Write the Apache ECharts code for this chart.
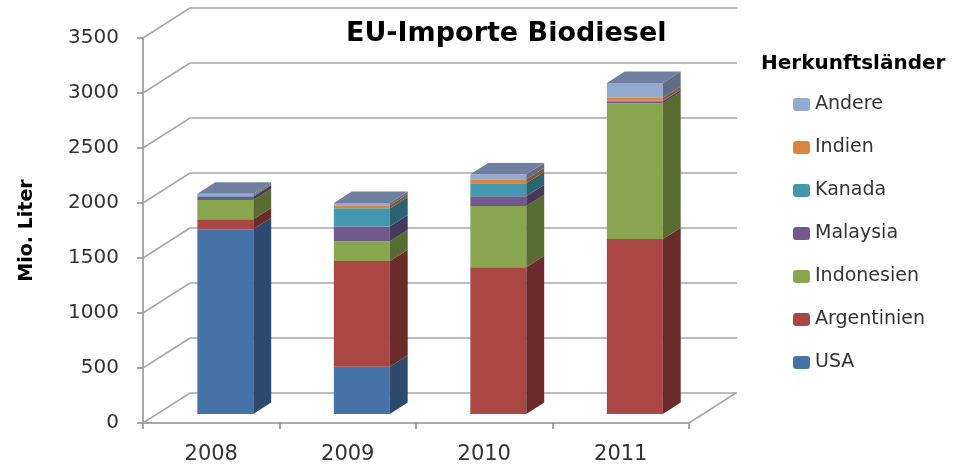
<!DOCTYPE html>
<html>
<head>
<meta charset="utf-8">
<script src="https://cdn.jsdelivr.net/npm/echarts@6/dist/echarts.min.js"></script>
<style>
html,body{margin:0;padding:0;background:#fff}
#chart{width:961px;height:469px}
</style>
</head>
<body>
<div id="chart"></div>
<script>
// EU-Importe Biodiesel, Mio. Liter
var years = ['2008', '2009', '2010', '2011'];
var usa         = [1680,  430,    0,    0];
var argentinien = [  90,  960, 1335, 1590];
var indonesien  = [ 175,  180,  555, 1235];
var malaysia    = [  30,  135,   90,   18];
var kanada      = [   8,  165,  118,    5];
var indien      = [   8,   27,   36,   27];
var andere      = [  12,   22,   45,  135];
var yTicks = [0, 500, 1000, 1500, 2000, 2500, 3000, 3500];
var legendOrder = ['Andere', 'Indien', 'Kanada', 'Malaysia', 'Indonesien', 'Argentinien', 'USA'];

// bottom to top
var countries = [
  {name: 'USA',         values: usa,         front: '#4572A7', side: '#2C4A6E', top: '#5C7DAE'},
  {name: 'Argentinien', values: argentinien, front: '#AA4643', side: '#6B2B2A', top: '#9C5A58'},
  {name: 'Indonesien',  values: indonesien,  front: '#89A54E', side: '#586B31', top: '#8A9B67'},
  {name: 'Malaysia',    values: malaysia,    front: '#71588F', side: '#46375B', top: '#75698A'},
  {name: 'Kanada',      values: kanada,      front: '#4198AF', side: '#2A6372', top: '#5F8F9E'},
  {name: 'Indien',      values: indien,      front: '#DB843D', side: '#8E5527', top: '#B58660'},
  {name: 'Andere',      values: andere,      front: '#93A9CF', side: '#5E6D88', top: '#6F7FA0'}
];

// oblique depth of the back wall (px), bar position in that depth
var DX = 47, DY = -30;
var FACE_DEPTH = 0.3, BAR_DEPTH = 0.38, BAR_W = 0.41;

var myChart = echarts.init(document.getElementById('chart'));

function makeBar(c) {
  return function (params, api) {
    var i = api.value(0), lo = api.value(1), hi = api.value(2), isTop = api.value(3);
    if (hi <= lo) return;
    var cw = api.size([1, 0])[0];
    var pLo = api.coord([i, lo]), pHi = api.coord([i, hi]);
    var w = cw * BAR_W;
    var x0 = pLo[0] + DX * FACE_DEPTH - w / 2, x1 = x0 + w;
    var yb = pLo[1] + DY * FACE_DEPTH, yt = pHi[1] + DY * FACE_DEPTH;
    var dx = DX * BAR_DEPTH, dy = DY * BAR_DEPTH;
    var kids = [
      {type: 'polygon', shape: {points: [[x0, yb], [x1, yb], [x1, yt], [x0, yt]]}, style: {fill: c.front}},
      {type: 'polygon', shape: {points: [[x1, yb], [x1 + dx, yb + dy], [x1 + dx, yt + dy], [x1, yt]]}, style: {fill: c.side}}
    ];
    if (isTop) {
      kids.push({type: 'polygon', shape: {points: [[x0, yt], [x1, yt], [x1 + dx, yt + dy], [x0 + dx, yt + dy]]}, style: {fill: c.top}});
    }
    return {type: 'group', children: kids};
  };
}

function renderWall(params, api) {
  var cs = params.coordSys;
  var y = api.coord([0, api.value(1)])[1];
  var kids = [{type: 'line', shape: {x1: cs.x, y1: y, x2: cs.x + DX, y2: y + DY}, style: {stroke: '#a6a6a6', lineWidth: 1.5}}];
  if (api.value(1) === 0) {
    var xr = cs.x + cs.width;
    kids.push({type: 'line', shape: {x1: xr, y1: y, x2: xr + DX, y2: y + DY}, style: {stroke: '#a6a6a6', lineWidth: 1.5}});
  }
  return {type: 'group', children: kids};
}

var topIdx = years.map(function (y, i) {
  var t = -1;
  countries.forEach(function (c, k) { if (c.values[i] > 0) t = k; });
  return t;
});

var base = years.map(function () { return 0; });
var series = countries.map(function (c, k) {
  var data = c.values.map(function (v, i) {
    var lo = base[i];
    base[i] += v;
    return [i, lo, base[i], topIdx[i] === k ? 1 : 0];
  });
  return {
    type: 'custom', name: c.name, xAxisIndex: 0, yAxisIndex: 0,
    itemStyle: {color: c.front}, renderItem: makeBar(c), data: data, z: 3
  };
});

series.push({
  type: 'custom', name: 'wall', xAxisIndex: 0, yAxisIndex: 0, z: 1, silent: true,
  renderItem: renderWall,
  data: yTicks.map(function (v) { return [0, v]; })
});

var font = 'DejaVu Sans';
myChart.setOption({
  animation: false,
  title: [
    {text: 'EU-Importe Biodiesel', left: 341, top: 15,
     textStyle: {fontFamily: font, fontWeight: 'bold', fontSize: 27, color: '#000'}},
    {text: 'Herkunftsländer', left: 756, top: 49,
     textStyle: {fontFamily: font, fontWeight: 'bold', fontSize: 20, color: '#000'}}
  ],
  legend: {
    data: legendOrder,
    orient: 'vertical', left: 788, top: 90,
    itemWidth: 17, itemHeight: 13, itemGap: 24,
    textStyle: {fontFamily: font, fontSize: 19, color: '#333'}
  },
  grid: [
    {left: 143, right: 272, top: 38, bottom: 46},
    {left: 190, right: 224, top: 8, bottom: 76}
  ],
  xAxis: [
    {type: 'category', gridIndex: 0, data: years,
     axisLine: {lineStyle: {color: '#8c8c8c', width: 1.5}},
     axisTick: {show: true, length: 6, lineStyle: {color: '#8c8c8c', width: 1.5}},
     axisLabel: {margin: 21, fontFamily: font, fontSize: 21, color: '#333'}},
    {type: 'category', gridIndex: 1, data: years, show: false}
  ],
  yAxis: [
    {type: 'value', gridIndex: 0, min: 0, max: 3500, interval: 500,
     axisLine: {show: true, lineStyle: {color: '#8c8c8c', width: 1.5}},
     axisTick: {show: true, length: 6, lineStyle: {color: '#8c8c8c', width: 1.5}},
     splitLine: {show: false},
     axisLabel: {margin: 24, fontFamily: font, fontSize: 20, color: '#333',
                 formatter: function (v) { return String(v); }},
     name: 'Mio. Liter', nameLocation: 'middle', nameGap: 106, nameRotate: 90,
     nameTextStyle: {fontFamily: font, fontWeight: 'bold', fontSize: 19, color: '#000'}},
    {type: 'value', gridIndex: 1, min: 0, max: 3500, interval: 500,
     axisLine: {show: false}, axisTick: {show: false}, axisLabel: {show: false},
     splitLine: {show: true, lineStyle: {color: '#a6a6a6', width: 1.5}}}
  ],
  series: series
});
</script>
</body>
</html>
